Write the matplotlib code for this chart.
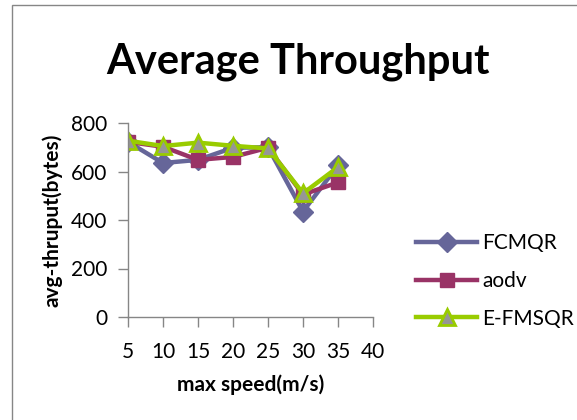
import matplotlib.pyplot as plt
import matplotlib.patches as mpatches

plt.rcParams['font.family'] = ['Lato', 'DejaVu Sans']

speeds = [5, 10, 15, 20, 25, 30, 35, 40]
fcmqr = [722, 635, 648, 698, 700, 435, 625]
aodv = [722, 702, 648, 660, 698, 505, 555]
efmsqr = [727, 705, 719, 706, 695, 510, 618]

fig = plt.figure(figsize=(5.77, 4.2), dpi=100)
# chart area border (only top and left are visible in the picture)
fig.patches.append(mpatches.Rectangle((12 / 577, -0.1), 1.2, 1 - 5.5 / 420 + 0.1,
                                      transform=fig.transFigure, fill=False,
                                      edgecolor='#868686', linewidth=1.0))

ax = fig.add_axes([128 / 577, 1 - 317 / 420, (373 - 128) / 577, (317 - 123) / 420])

x = list(range(len(fcmqr)))
ax.plot(x, fcmqr, color='#666699', lw=3.2, marker='D', ms=10,
        mfc='#666699', mec='#666699', label='FCMQR')
ax.plot(x, aodv, color='#993366', lw=3.2, marker='s', ms=10,
        mfc='#993366', mec='#993366', label='aodv')
ax.plot(x, efmsqr, color='#99CC00', lw=3.2, marker='^', ms=12,
        mfc='#969696', mec='#99CC00', mew=2, label='E-FMSQR')

ax.set_xlim(0, len(speeds) - 1)
ax.set_ylim(0, 800)
ax.set_xticks(range(len(speeds)))
ax.set_xticklabels([str(s) for s in speeds])
ax.set_yticks([0, 200, 400, 600, 800])

for s in ['top', 'right']:
    ax.spines[s].set_visible(False)
for s in ['left', 'bottom']:
    ax.spines[s].set_color('#868686')
    ax.spines[s].set_linewidth(1.0)
ax.tick_params(axis='both', colors='#868686', labelcolor='black', labelsize=15,
               length=7, width=1.0)
ax.tick_params(axis='x', pad=11)
ax.tick_params(axis='y', pad=8)

ax.set_xlabel('max speed(m/s)', fontsize=15, fontweight='bold', labelpad=9)
ax.set_ylabel('avg-thruput(bytes)', fontsize=15, fontweight='bold', labelpad=6)

fig.text(298 / 577, 1 - 62 / 420, 'Average Throughput', ha='center', va='center',
         fontsize=30, fontweight='bold')

fig.legend(loc='center left', bbox_to_anchor=(408 / 577, 1 - 281 / 420),
           frameon=False, fontsize=15, handlelength=2.9, handletextpad=0.25,
           labelspacing=0.85, borderaxespad=0)

fig.savefig('out.png', dpi=100)
